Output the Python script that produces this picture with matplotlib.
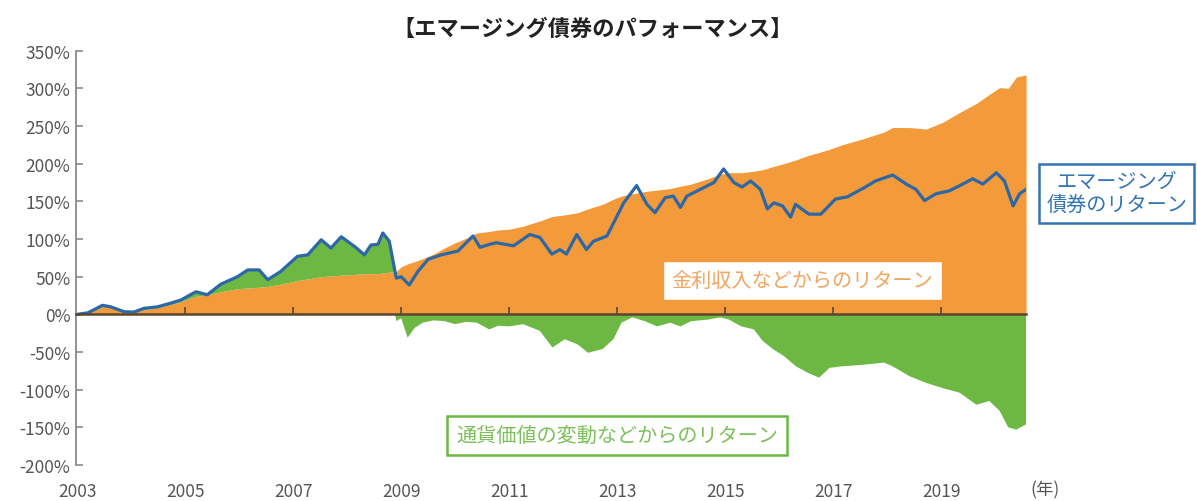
import numpy as np
import matplotlib
matplotlib.use("Agg")
import matplotlib.pyplot as plt

plt.rcParams['font.family'] = ['Noto Sans CJK JP', 'DejaVu Sans']

# total return of emerging bonds (line)
line_years = [2003.0, 2003.2, 2003.47, 2003.62, 2003.87, 2004.05, 2004.24, 2004.49, 2004.74, 2004.92,
              2005.2, 2005.41, 2005.66, 2005.97, 2006.16, 2006.37, 2006.53, 2006.77, 2007.08, 2007.27,
              2007.52, 2007.7, 2007.89, 2008.14, 2008.32, 2008.44, 2008.57, 2008.66, 2008.78, 2008.91,
              2009.0, 2009.15, 2009.31, 2009.5, 2009.74, 2010.05, 2010.33, 2010.46, 2010.64, 2010.76,
              2011.08, 2011.38, 2011.57, 2011.79, 2011.94, 2012.06, 2012.25, 2012.43, 2012.56, 2012.81,
              2013.12, 2013.36, 2013.55, 2013.7, 2013.89, 2014.04, 2014.17, 2014.29, 2014.79, 2014.97,
              2015.16, 2015.31, 2015.47, 2015.65, 2015.78, 2015.9, 2016.06, 2016.21, 2016.3, 2016.55,
              2016.77, 2017.04, 2017.26, 2017.57, 2017.78, 2018.1, 2018.35, 2018.53, 2018.69, 2018.9,
              2019.15, 2019.4, 2019.58, 2019.77, 2020.02, 2020.17, 2020.33, 2020.45, 2020.57]
line_total = [0, 2, 12, 10, 3.5, 3, 8, 10, 15, 19,
              30, 26, 40, 50, 59, 59, 46, 57, 77, 79,
              99, 88, 103, 90, 79, 92, 93, 108, 97, 48,
              50, 39, 57, 73, 79, 84, 104, 89, 93, 95,
              91, 106, 102, 80, 86, 80, 106, 86, 97, 104,
              148, 171, 146, 135, 155, 157, 142, 157, 175, 193,
              175, 169, 177, 166, 140, 148, 144, 129, 146, 133,
              133, 153, 156, 168, 177, 185, 173, 166, 151, 160,
              164, 173, 180, 173, 188, 177, 144, 160, 166]

# income return (orange) and currency return (green)
area_years = [2003.0, 2003.2, 2003.47, 2003.62, 2003.87, 2004.05, 2004.24, 2004.49, 2004.74, 2004.92,
              2005.2, 2005.41, 2005.66, 2005.97, 2006.16, 2006.37, 2006.53, 2006.77, 2007.08, 2007.27,
              2007.52, 2007.7, 2007.89, 2008.14, 2008.32, 2008.44, 2008.57, 2008.66, 2008.78, 2008.91,
              2009.0, 2009.12, 2009.25, 2009.4, 2009.6, 2009.8, 2010.0, 2010.2, 2010.4, 2010.63,
              2010.8, 2011.0, 2011.26, 2011.57, 2011.8, 2012.03, 2012.27, 2012.46, 2012.73, 2012.93,
              2013.08, 2013.28, 2013.51, 2013.74, 2013.98, 2014.17, 2014.37, 2014.68, 2014.91, 2015.07,
              2015.3, 2015.53, 2015.69, 2015.88, 2016.08, 2016.31, 2016.54, 2016.74, 2016.93, 2017.16,
              2017.55, 2017.94, 2018.1, 2018.41, 2018.72, 2019.03, 2019.34, 2019.65, 2019.89, 2020.08,
              2020.24, 2020.39, 2020.57]
income = [0, 2, 10, 9, 3, 3, 6, 9, 13, 17,
          24, 26, 30, 34, 35, 36, 37, 40, 45, 47,
          50, 51, 52, 53, 54, 54, 54, 55, 56, 57,
          63, 67, 70, 74, 80, 88, 95, 101, 108, 110,
          112, 113, 117, 124, 130, 132, 135, 140, 146, 153,
          157, 160, 163, 165, 167, 170, 173, 180, 186, 188,
          188, 190, 192, 196, 200, 205, 211, 215, 219, 225,
          233, 242, 248, 248, 246, 255, 268, 280, 292, 301,
          300, 315, 318]
currency = [0, 0, 2, 1, 0.5, 0, 2, 1, 2, 2,
            6, 0, 10, 16, 24, 23, 9, 17, 32, 32,
            49, 37, 51, 37, 25, 38, 39, 53, 41, -9,
            -5, -31, -18, -11, -8, -9, -13, -10, -11, -20,
            -15, -16, -13, -22, -44, -33, -40, -51, -46, -33,
            -11, -4, -9, -16, -11, -16, -9, -7, -4, -7,
            -16, -20, -35, -46, -55, -69, -78, -84, -71, -69,
            -67, -64, -69, -82, -91, -98, -104, -120, -115, -128,
            -150, -153, -146]

y_ticks = [-200, -150, -100, -50, 0, 50, 100, 150, 200, 250, 300, 350]
x_ticks = [2003, 2005, 2007, 2009, 2011, 2013, 2015, 2017, 2019]

orange = '#F39A3A'
green = '#6CB843'
blue = '#2C68A6'

fig = plt.figure(figsize=(11.97, 5.02), dpi=100)
ax = fig.add_axes([0.0635, 0.0717, 0.7937, 0.8253])

ax_x = np.array(area_years)
inc = np.array(income)
cur = np.array(currency)

ax.fill_between(ax_x, 0, inc, color=orange, lw=0)
ax.fill_between(ax_x, inc, inc + cur, where=cur >= 0, interpolate=True, color=green, lw=0)
ax.fill_between(ax_x, 0, cur, where=cur <= 0, interpolate=True, color=green, lw=0)
ax.plot(line_years, line_total, color=blue, lw=2.3, solid_joinstyle='round')

ax.set_xlim(2002.98, 2020.57)
ax.set_ylim(-200, 350)

for s in ['top', 'right']:
    ax.spines[s].set_visible(False)
ax.spines['left'].set_color('#8a8a8a')
ax.spines['left'].set_linewidth(1.3)
ax.spines['bottom'].set_position(('data', 0))
ax.spines['bottom'].set_color('#5a4630')
ax.spines['bottom'].set_linewidth(1.8)
ax.spines['bottom'].set_zorder(5)

ax.set_yticks(y_ticks)
ax.set_yticklabels([f'{v}%' for v in y_ticks])
ax.tick_params(axis='y', direction='in', length=5, width=1.2, color='#8a8a8a',
               labelsize=12.5, labelcolor='#555555', pad=4)

ax.set_xticks(x_ticks[1:])
ax.tick_params(axis='x', direction='in', length=5, width=1.2, color='#5a4630',
               labelbottom=False)

sec = ax.secondary_xaxis('bottom')
sec.set_xticks(x_ticks)
sec.set_xticklabels([str(v) for v in x_ticks])
sec.spines['bottom'].set_visible(False)
sec.tick_params(axis='x', length=0, labelsize=12.5, labelcolor='#555555', pad=12)

fig.text(1045 / 1197, 1 - 490 / 502, '(年)', fontsize=12.5, color='#555555',
         ha='center', va='center')

fig.text(0.495, 0.942, '【エマージング債券のパフォーマンス】', fontsize=16,
         fontweight='bold', color='#222222', ha='center', va='center')

ax.text(2016.43, 45, '金利収入などからのリターン', fontsize=14.5, color='#F2A560',
        ha='center', va='center',
        bbox=dict(boxstyle='square,pad=0.45', fc='white', ec=orange, lw=1))
ax.text(2013.0, -161, '通貨価値の変動などからのリターン', fontsize=14.5, color='#7CC05A',
        ha='center', va='center',
        bbox=dict(boxstyle='square,pad=0.45', fc='white', ec=green, lw=1.8))

fig.text(0.933, 0.613, 'エマージング\n債券のリターン', fontsize=14.5, color='#3274B5',
         ha='center', va='center', linespacing=1.2,
         bbox=dict(boxstyle='square,pad=0.35', fc='white', ec='#3274B5', lw=1.8))

fig.savefig('out.png', dpi=100)
